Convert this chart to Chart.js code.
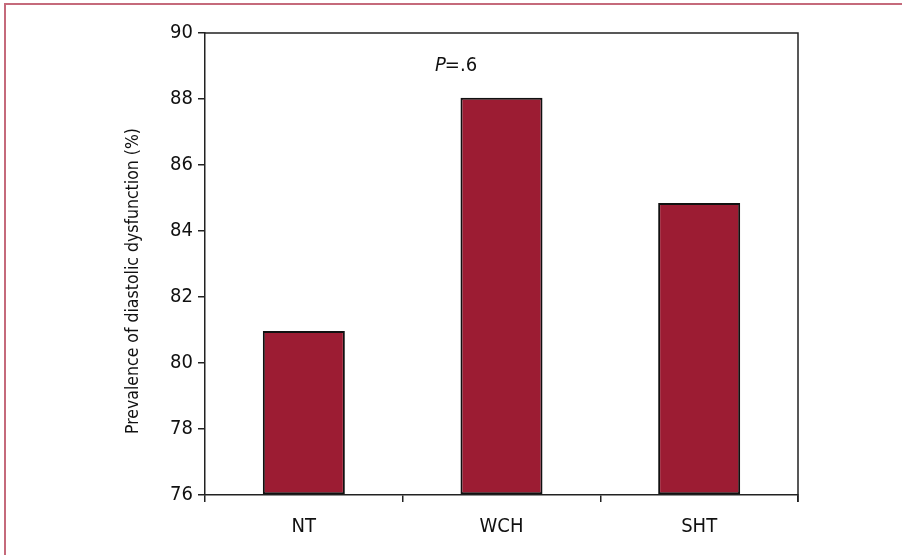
<!DOCTYPE html>
<html>
<head>
<meta charset="utf-8">
<script src="https://cdn.jsdelivr.net/npm/chart.js@4/dist/chart.umd.min.js"></script>
<style>
  html, body { margin: 0; padding: 0; background: #fff; overflow: hidden; }
  #wrap { position: relative; width: 902px; height: 555px; }
  #frame {
    position: absolute; left: 4px; top: 3px; width: 1000px; height: 1000px;
    border-left: 2px solid #c56a7b; border-top: 2px solid #c56a7b;
  }
  canvas { position: absolute; left: 0; top: 0; }
</style>
</head>
<body>
<div id="wrap">
  <div id="frame"></div>
  <canvas id="prevChart" width="902" height="555"></canvas>
</div>
<script>
/* ---- data ---- */
const groups = ["NT", "WCH", "SHT"];
const prevalence = [80.97, 88.04, 84.85];
const yTicks = [76, 78, 80, 82, 84, 86, 88, 90];
const yTitle = "Prevalence of diastolic dysfunction (%)";
const pLabel = ["P", "=.6"];

const FONT = "'Liberation Sans Narrow', 'DejaVu Sans Condensed', 'Arial Narrow', sans-serif";
const AXIS = "#222";

/* ---- box, title and p-value ---- */
const extras = {
  id: "extras",
  afterDraw(chart) {
    const { ctx, chartArea: a } = chart;
    ctx.save();
    ctx.strokeStyle = AXIS;
    ctx.lineWidth = 1.5;
    ctx.beginPath();
    ctx.moveTo(a.left, a.top);
    ctx.lineTo(a.right, a.top);
    ctx.lineTo(a.right, a.bottom + 7);
    ctx.stroke();

    // y axis title
    ctx.fillStyle = "#111";
    ctx.font = "17.5px " + FONT;
    ctx.translate(a.left - 72, a.top + 248);
    ctx.rotate(-Math.PI / 2);
    ctx.textAlign = "center";
    ctx.textBaseline = "middle";
    ctx.fillText(yTitle, 0, 0);
    ctx.restore();

    // p value
    ctx.save();
    ctx.fillStyle = "#111";
    ctx.textBaseline = "alphabetic";
    ctx.font = "italic 20px " + FONT;
    const px = a.left + 230, py = a.top + 38;
    ctx.fillText(pLabel[0], px, py);
    const w = ctx.measureText(pLabel[0]).width;
    ctx.font = "20px " + FONT;
    ctx.fillText(pLabel[1], px + w - 1, py);
    ctx.restore();
  }
};

new Chart(document.getElementById("prevChart"), {
  type: "bar",
  data: {
    labels: groups,
    datasets: [{
      data: prevalence,
      backgroundColor: "#9c1c33",
      borderColor: "#111",
      borderWidth: 2,
      borderSkipped: false,
      barPercentage: 0.415,
      categoryPercentage: 1,
      base: 76,
    }],
  },
  options: {
    responsive: false,
    animation: false,
    devicePixelRatio: 1,
    layout: { padding: { left: 0, top: 33, right: 104, bottom: 0 } },
    plugins: { legend: { display: false }, tooltip: { enabled: false } },
    scales: {
      x: {
        afterFit: (s) => { s.height = 60; },
        grid: { display: true, drawOnChartArea: false, drawTicks: true, tickLength: 7, color: AXIS, lineWidth: 1.5, offset: true },
        border: { display: true, color: AXIS, width: 1.5 },
        ticks: { color: "#111", font: { family: FONT, size: 20 }, padding: 13 },
      },
      y: {
        min: 76,
        max: 90,
        afterFit: (s) => { s.width = 205; },
        afterBuildTicks: (s) => { s.ticks = yTicks.map((v) => ({ value: v })); },
        grid: { display: true, drawOnChartArea: false, drawTicks: true, tickLength: 7, color: AXIS, lineWidth: 1.5 },
        border: { display: true, color: AXIS, width: 1.5 },
        ticks: { color: "#111", font: { family: FONT, size: 20 }, padding: 5 },
      },
    },
  },
  plugins: [extras],
});
</script>
</body>
</html>
